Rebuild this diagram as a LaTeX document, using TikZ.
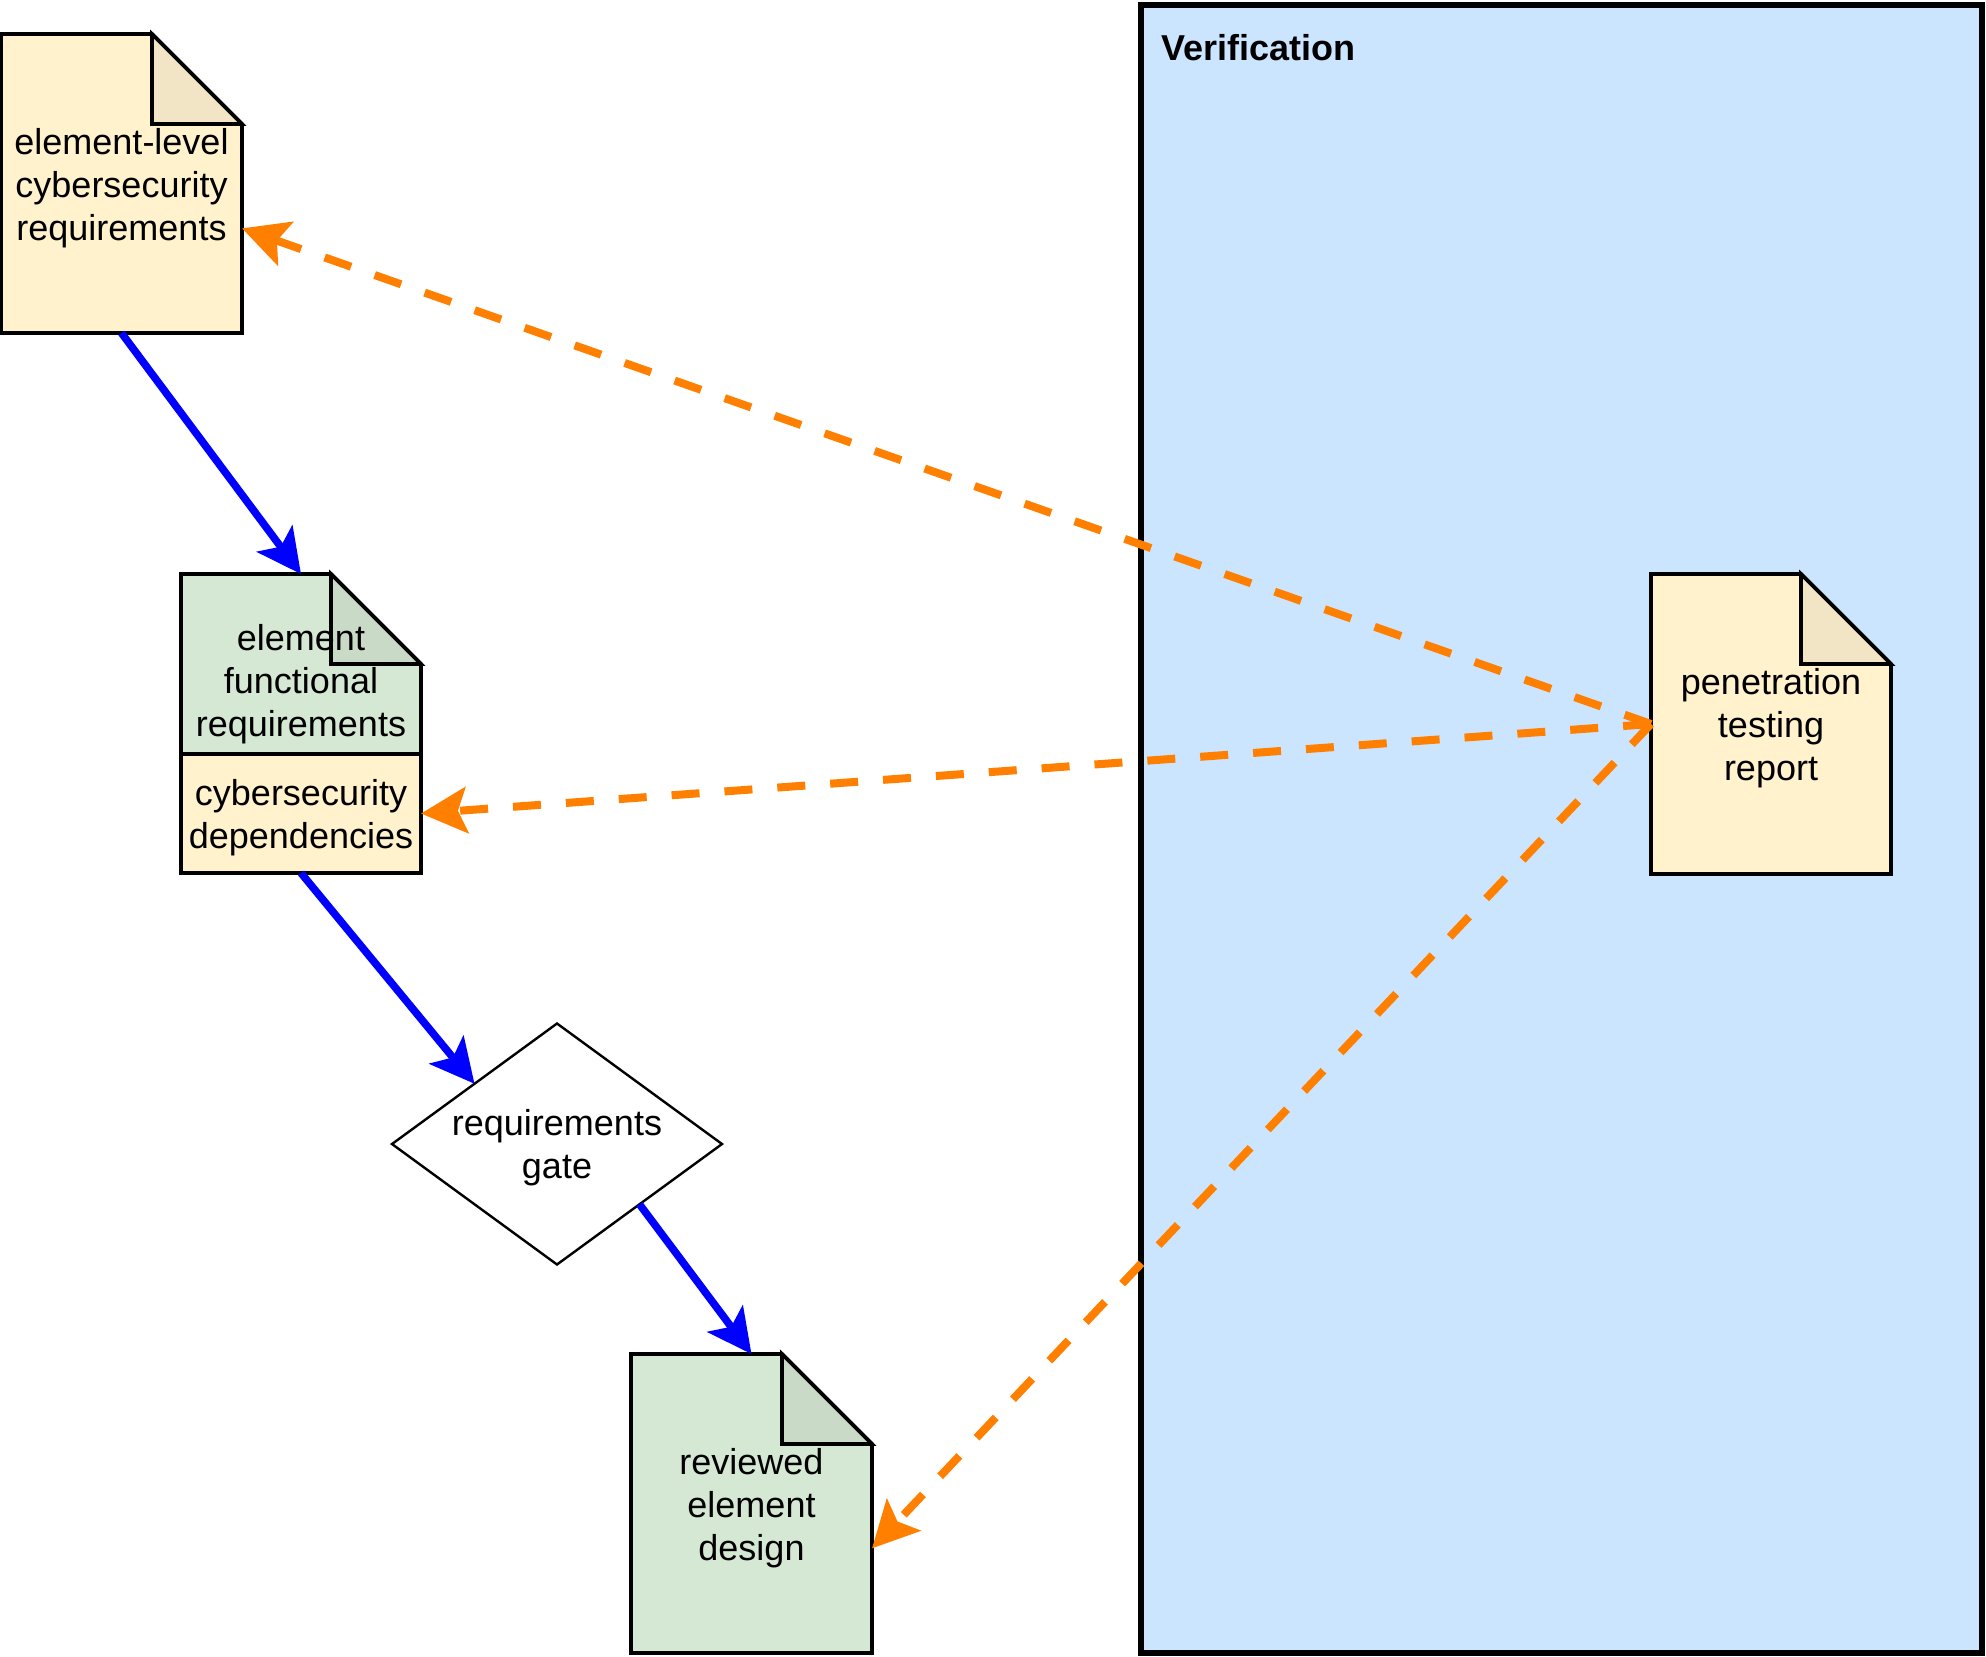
\documentclass[tikz,border=0pt]{standalone}
\usepackage{fontspec}
\setmainfont{Liberation Sans}
\usetikzlibrary{shapes.geometric,arrows.meta,calc}
\pgfdeclarelayer{frame}
\pgfdeclarelayer{background}
\pgfsetlayers{frame,background,main}

\definecolor{docyellow}{HTML}{FFF2CC}
\definecolor{foldyellow}{HTML}{F2E5C5}
\definecolor{docgreen}{HTML}{D5E8D4}
\definecolor{foldgreen}{HTML}{C9DAC7}
\definecolor{verifblue}{HTML}{CCE5FF}
\definecolor{flowblue}{HTML}{0000FF}
\definecolor{traceorange}{HTML}{FF8000}

% folded-corner document outline behind a named node
\newcommand\docoutline[3]{%
  \begin{pgfonlayer}{background}
    \filldraw[fill=#2, line width=1.8pt, line join=miter]
      (#1.north west) -- ([xshift=-45pt]#1.north east)
      -- ([yshift=-45pt]#1.north east)
      -- (#1.south east) -- (#1.south west) -- cycle;
    \filldraw[fill=#3, line width=1.8pt, line join=miter]
      ([xshift=-45pt]#1.north east) -- ([xshift=-45pt,yshift=-45pt]#1.north east)
      -- ([yshift=-45pt]#1.north east) -- cycle;
  \end{pgfonlayer}}

\tikzset{
  txt/.style={font=\fontsize{18}{21.6}\selectfont, align=center, inner sep=0pt, outer sep=0pt},
  docnode/.style={rectangle, inner sep=0pt, outer sep=0pt, minimum width=120.5pt, minimum height=149.5pt},
  cellnode/.style={rectangle, draw, line width=1.8pt, fill=docyellow, inner sep=0pt, outer sep=0pt,
    minimum width=120pt, minimum height=59.5pt},
  gatenode/.style={diamond, draw, line width=1.2pt, fill=white, inner sep=0pt, outer sep=0pt,
    minimum width=165pt, minimum height=120.5pt},
  container/.style={rectangle, draw, line width=3pt, fill=verifblue,
    minimum width=420.5pt, minimum height=824pt, inner sep=0pt},
  flow/.style={draw=flowblue, line width=3.8pt,
    -{Stealth[length=22pt,width=22pt,inset=5pt]}},
  trace/.style={draw=traceorange, line width=4pt, dash pattern=on 14pt off 12.5pt,
    -{Stealth[length=23pt,width=23pt,inset=4.5pt]}},
}

\begin{document}
\begin{tikzpicture}[x=0.5pt, y=-0.5pt]
\useasboundingbox (0,0) rectangle (1986,1656);

% verification area
\begin{pgfonlayer}{frame}
  \node[container] (verif) at (1561.5,829) {};
\end{pgfonlayer}
\node[txt, anchor=west, font=\fontsize{18}{21.6}\selectfont\bfseries] (veriftitle) at (1161,48) {Verification};

% work products
\node[docnode] (d1) at (121.5,183.5) {};
\docoutline{d1}{docyellow}{foldyellow}
\node[txt] (d1text) at (121.5,188) {element-level\\cybersecurity\\requirements};

\node[rectangle, inner sep=0pt, outer sep=0pt, minimum width=120pt, minimum height=90pt] (d2top) at (301,664) {};
\docoutline{d2top}{docgreen}{foldgreen}
\node[txt] (d2text) at (301,684) {element\\functional\\requirements};
\node[cellnode] (d2dep) at (301,813.5) {};
\node[txt] (d2deptext) at (301,818) {cybersecurity\\dependencies};

\node[gatenode] (gate) at (557,1144) {};
\node[txt] (gatetext) at (557,1148) {requirements\\gate};

\node[docnode] (d4) at (751.5,1503.5) {};
\docoutline{d4}{docgreen}{foldgreen}
\node[txt] (d4text) at (751.5,1508) {reviewed\\element\\design};

\node[docnode, minimum width=120pt, minimum height=150pt] (d5) at (1771,724) {};
\docoutline{d5}{docyellow}{foldyellow}
\node[txt] (d5text) at (1771,728) {penetration\\testing\\report};

% entry points on the right-hand sides
\coordinate (d1in) at ($(d1.north east)!0.65!(d1.south east)$);
\coordinate (d4in) at ($(d4.north east)!0.65!(d4.south east)$);

% development flow
\draw[flow] (d1.south) -- (d2top.north);
\draw[flow] (d2dep.south) -- (gate.north west);
\draw[flow] (gate.south east) -- (d4.north);

% verification feedback
\draw[trace] (d5.west) -- (d1in);
\draw[trace] (d5.west) -- (d2dep.east);
\draw[trace] (d5.west) -- (d4in);
\end{tikzpicture}
\end{document}
